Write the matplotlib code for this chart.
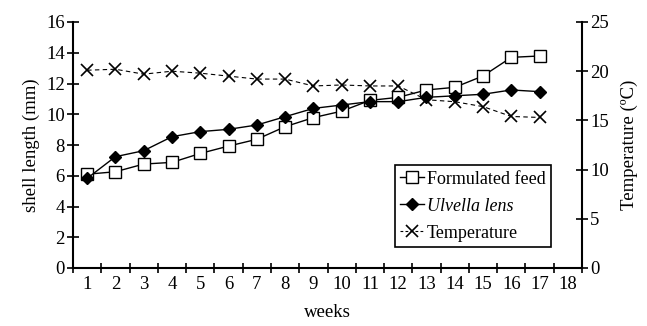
import matplotlib
matplotlib.use("Agg")
import matplotlib.pyplot as plt
from matplotlib.lines import Line2D

plt.rcParams['font.family'] = ['Liberation Serif', 'DejaVu Serif']
plt.rcParams['font.size'] = 13.5

weeks = list(range(1, 18))
formulated = [6.1, 6.26, 6.76, 6.87, 7.45, 7.93, 8.37, 9.19, 9.78, 10.2,
              10.9, 11.1, 11.58, 11.75, 12.49, 13.7, 13.79]
ulvella = [5.83, 7.24, 7.63, 8.54, 8.87, 9.02, 9.3, 9.84, 10.38, 10.6,
           10.82, 10.82, 11.1, 11.2, 11.3, 11.58, 11.47]
temperature = [20.1, 20.2, 19.7, 20.0, 19.8, 19.5, 19.2, 19.2, 18.5, 18.6,
               18.5, 18.5, 17.1, 16.9, 16.4, 15.4, 15.3]
xlabels = [str(i) for i in range(1, 19)]

fig = plt.figure(figsize=(6.47, 3.26), dpi=100)
ax = fig.add_axes([73 / 647, 1 - 268 / 326, (582 - 73) / 647, (268 - 22) / 326])
ax2 = ax.twinx()

l1, = ax.plot(weeks, formulated, color='black', lw=1, marker='s', ms=8,
              mfc='white', mec='black', mew=1, zorder=3)
l2, = ax.plot(weeks, ulvella, color='black', lw=1, marker='D', ms=6.5,
              mfc='black', mec='black', zorder=4)
l3, = ax2.plot(weeks, temperature, color='black', lw=0.8, ls=(0, (4, 3)),
               marker='x', ms=9, mew=1.2, mec='black')

ax.set_xlim(0.5, 18.5)
ax.set_ylim(0, 16)
ax2.set_ylim(0, 25)
ax.set_yticks(range(0, 17, 2))
ax2.set_yticks(range(0, 26, 5))

ax.set_xticks([i + 0.5 for i in range(0, 19)])
ax.set_xticklabels([])
ax.set_xticks(range(1, 19), minor=True)
ax.set_xticklabels(xlabels, minor=True)
ax.tick_params(axis='x', which='major', direction='inout', length=7, width=1.2)
ax.tick_params(axis='x', which='minor', length=0, pad=6)
ax.tick_params(axis='y', direction='inout', length=8, width=1.2, pad=2)
ax2.tick_params(axis='y', direction='inout', length=8, width=1.2, pad=2)

for a in (ax, ax2):
    a.spines['top'].set_visible(False)
    for s in ('left', 'right', 'bottom'):
        a.spines[s].set_linewidth(1.5)
ax.spines['right'].set_visible(False)
ax2.spines['left'].set_visible(False)
ax2.spines['bottom'].set_visible(False)

ax.set_xlabel('weeks', labelpad=8)
ax.set_ylabel('shell length (mm)', labelpad=4)
ax2.set_ylabel('Temperature (ºC)', labelpad=8)

handles = [
    Line2D([], [], color='black', lw=1, marker='s', ms=8, mfc='white', mec='black'),
    Line2D([], [], color='black', lw=1, marker='D', ms=6.5, mfc='black'),
    Line2D([], [], color='black', lw=0.8, ls=(0, (2.5, 2)), marker='x', ms=9, mew=1.2),
]
leg = ax.legend(handles, ['Formulated feed', 'Ulvella lens', 'Temperature'],
                loc='lower left', bbox_to_anchor=((395 - 73) / 509, (268 - 247) / 246),
                frameon=True, fancybox=False, edgecolor='black', framealpha=1,
                fontsize=13, handlelength=1.3, handletextpad=0.15, borderpad=0.3,
                labelspacing=0.55, borderaxespad=0)
leg.get_frame().set_linewidth(1.2)
leg.get_texts()[1].set_style('italic')
ax2.set_zorder(ax.get_zorder() - 1)
ax.patch.set_visible(False)

fig.savefig('out.png', dpi=100)
